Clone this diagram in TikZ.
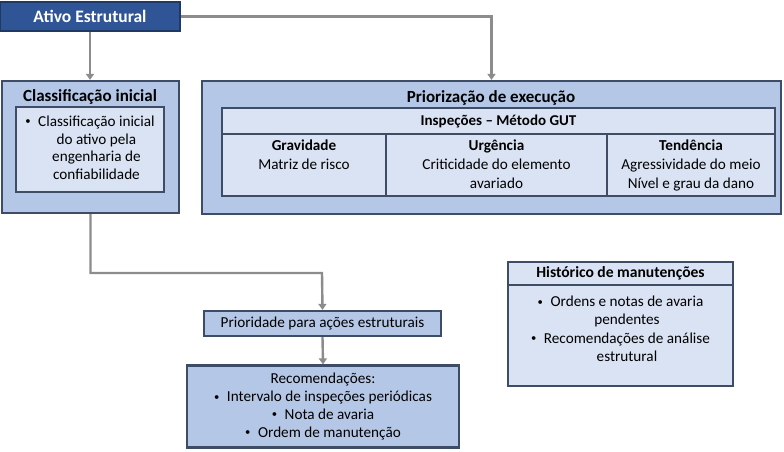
\documentclass[tikz,border=0pt]{standalone}
\usepackage{fontspec}
\setmainfont{Carlito}
\usetikzlibrary{positioning, arrows.meta, calc}
\definecolor{boxDark}{HTML}{2F5597}
\definecolor{boxDarkLine}{HTML}{203864}
\definecolor{boxMid}{HTML}{B4C7E7}
\definecolor{boxLight}{HTML}{DAE3F3}
\definecolor{boxLine}{HTML}{3E4C66}
\definecolor{connGray}{HTML}{8C8C8C}
\newcommand{\blt}{\raisebox{0.2ex}{\scalebox{0.7}{\textbullet}}\enspace}
\newcommand{\hangitem}[1]{\blt\begin{tabular}[t]{@{}c@{}}#1\end{tabular}}
\tikzset{
  every node/.style={font=\fontsize{15.2}{17.8}\selectfont},
  conn/.style={-{Triangle[width=8pt,length=6pt]}, line width=2.4pt, connGray},
  outer/.style={draw=boxLine, fill=boxMid, line width=2.2pt, inner sep=0pt},
  inner/.style={draw=boxLine, fill=boxLight, line width=2.2pt, inner sep=0pt, align=center},
  title/.style={font=\fontsize{17}{20}\selectfont\bfseries, inner sep=0pt},
  head/.style={font=\fontsize{15}{19}\selectfont\bfseries},
  txt/.style={align=center, inner sep=0pt},
}
\begin{document}
\begin{tikzpicture}[x=1pt, y=-1pt]
  \useasboundingbox (0,0) rectangle (784,452);
  % --- top: the asset ---
  \node[draw=boxDarkLine, fill=boxDark, line width=1.6pt, minimum width=180pt, minimum height=29pt,
        text=white, font=\fontsize{17.5}{20}\selectfont\bfseries] (ativo) at (90,16.5) {Ativo Estrutural};
  % --- left: initial classification ---
  \node[outer, minimum width=177pt, minimum height=132pt] (classOuter) at (90.5,147) {};
  \node[title] (classTitle) at (90,97) {Classificação inicial};
  \node[inner, minimum width=148pt, minimum height=85pt] (classInner) at (90,149.5)
    {\hangitem{Classificação inicial\\do ativo pela\\engenharia de\\confiabilidade}};
  % --- right: execution priority ---
  \node[outer, minimum width=579pt, minimum height=133pt] (prioOuter) at (491.5,147.5) {};
  \node[title] (prioTitle) at (491,98) {Priorização de execução};
  \node[inner, head, minimum width=553pt, minimum height=26pt] (gut) at (498.5,121) {Inspeções – Método GUT};
  \node[inner, minimum width=164pt, minimum height=62pt] (grav) at (304,165) {};
  \node[inner, minimum width=221pt, minimum height=62pt] (urg) at (496.5,165) {};
  \node[inner, minimum width=168pt, minimum height=62pt] (tend) at (691,165) {};
  \node[txt, below=7pt of grav.north, font=\fontsize{15.2}{19}\selectfont] (gravTxt)
    {\textbf{Gravidade}\\Matriz de risco};
  \node[txt, below=7pt of urg.north, font=\fontsize{15.2}{19}\selectfont] (urgTxt)
    {\textbf{Urgência}\\Criticidade do elemento\\avariado};
  \node[txt, below=7pt of tend.north, font=\fontsize{15.2}{19}\selectfont] (tendTxt)
    {\textbf{Tendência}\\Agressividade do meio\\Nível e grau da dano};
  % --- bottom: actions ---
  \node[outer, minimum width=237pt, minimum height=25pt] (prioridade) at (322.5,323.5)
    {Prioridade para ações estruturais};
  \node[outer, minimum width=272pt, minimum height=82pt, align=center] (recom) at (323,406.5)
    {Recomendações:\\\blt Intervalo de inspeções periódicas\\\blt Nota de avaria\\\blt Ordem de manutenção};
  % --- maintenance history ---
  \node[inner, minimum width=225pt, minimum height=101pt] (histBody) at (620.5,335.5) {};
  \node[inner, font=\fontsize{15.6}{19}\selectfont\bfseries, minimum width=225pt, minimum height=23pt]
    (histHead) at (620.5,273.5) {Histórico de manutenções};
  \node[txt, below=8pt of histHead.south] (histTxt)
    {\hangitem{Ordens e notas de avaria\\pendentes}\\\hangitem{Recomendações de análise\\estrutural}};
  % --- connectors ---
  \coordinate (bend) at (322,273);
  \draw[conn] (ativo.south) -- (ativo.south |- classOuter.north);
  \draw[conn] (ativo.east) -| (prioOuter.north);
  \draw[conn] (classOuter.south) |- (bend) -- (prioridade.north);
  \draw[conn] (prioridade.south) -- (recom.north);
\end{tikzpicture}
\end{document}
